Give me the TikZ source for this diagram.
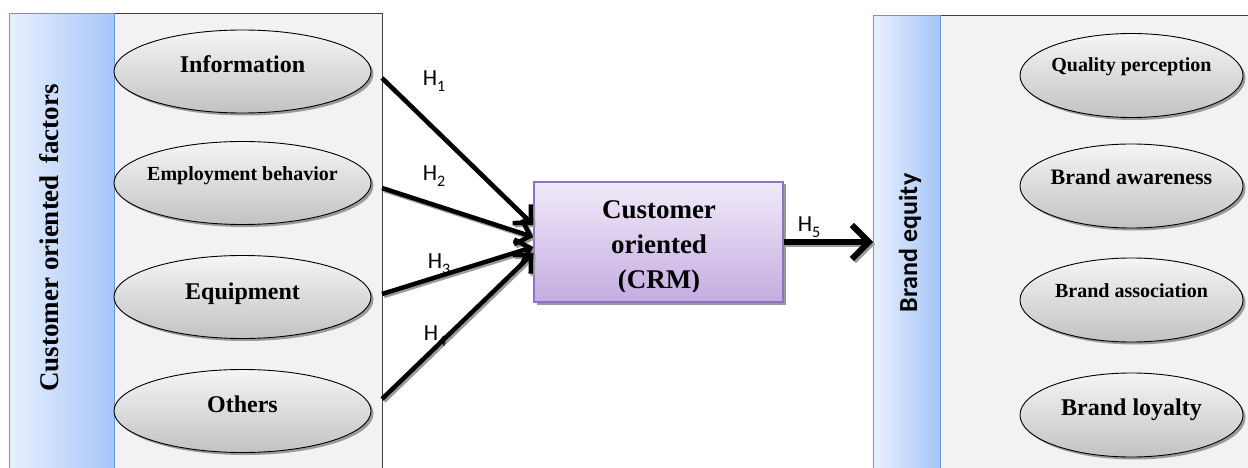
\documentclass[tikz,border=0pt]{standalone}
\usepackage{fontspec}
\setmainfont{Liberation Serif}
\newfontfamily\calib{Carlito}
\usetikzlibrary{shapes.geometric,arrows.meta,shadows}
\definecolor{stripL}{HTML}{E8F0FE}
\definecolor{stripR}{HTML}{A6C4F8}
\definecolor{stripB}{HTML}{6A98D6}
\definecolor{panelF}{HTML}{F2F2F2}
\definecolor{panelB}{HTML}{3F3F3F}
\definecolor{ellT}{HTML}{F5F5F5}
\definecolor{ellB}{HTML}{C2C2C2}
\definecolor{shd}{HTML}{9A9A9A}
\definecolor{crmT}{HTML}{F0EAF9}
\definecolor{crmB}{HTML}{C5ACE0}
\definecolor{crmD}{HTML}{9072C2}
\begin{document}
\begin{tikzpicture}[x=1pt,y=-1pt,
  panel/.style={draw=panelB, line width=0.9pt, fill=panelF, anchor=north west, inner sep=0pt},
  strip/.style={draw=stripB, line width=0.9pt, left color=stripL, right color=stripR, anchor=north west, inner sep=0pt},
  ell/.style={ellipse, draw=black, line width=0.9pt, top color=ellT, bottom color=ellB, inner sep=0pt,
    drop shadow={shadow xshift=2.5pt, shadow yshift=-2.5pt, fill=shd, opacity=1}},
  lell/.style={ell, minimum width=257pt, minimum height=83pt},
  rell/.style={ell, minimum width=223pt, minimum height=84pt},
  lbl/.style={anchor=base, inner sep=0pt, font=\bfseries\fontsize{24}{24}\selectfont},
  slbl/.style={anchor=base, inner sep=0pt, font=\bfseries\fontsize{20}{20}\selectfont},
  hl/.style={inner sep=0pt, font=\calib\fontsize{23}{23}\selectfont},
  arr/.style={line width=4.5pt, -{Straight Barb[length=13pt,width=26pt]}},
  arrsh/.style={arr, draw=shd, transform canvas={shift={(2pt,-2pt)}}},
  bigarr/.style={line width=6pt, -{Straight Barb[length=17pt,width=34pt]}},
  bigarrsh/.style={bigarr, draw=shd, transform canvas={shift={(2pt,-2pt)}}}
]
\useasboundingbox (0,0) rectangle (1248,468);
\clip (0,0) rectangle (1248,468);
\newcommand\Hsub[1]{H\raisebox{-0.28em}{\fontsize{16}{16}\selectfont #1}}

% left panel
\node[panel, minimum width=373pt, minimum height=470pt] (lp) at (9,13) {};
\node[strip, minimum width=105pt, minimum height=470pt] (ls) at (9,13) {};
\node[rotate=90, anchor=base, inner sep=0pt, font=\bfseries\fontsize{27}{27}\selectfont] (lt) at (58,238) {Customer oriented\, factors};

% right panel
\node[panel, minimum width=390pt, minimum height=470pt] (rp) at (873,15) {};
\node[strip, minimum width=67pt, minimum height=470pt] (rs) at (873,15) {};
\node[rotate=90, anchor=base, inner sep=0pt, font=\calib\bfseries\fontsize{26}{26}\selectfont] (rt) at (917,243) {Brand equity};

% left ellipses
\node[lell] (e1) at (242.5,71.5) {};
\node[lbl] (e1t) at (242.5,73) {Information};
\node[lell] (e2) at (242.5,183) {};
\node[slbl] (e2t) at (242.5,180) {Employment behavior};
\node[lell] (e3) at (242.5,297) {};
\node[lbl] (e3t) at (242.5,299) {Equipment};
\node[lell] (e4) at (242.5,411) {};
\node[lbl] (e4t) at (242.5,412) {Others};

% right ellipses
\node[rell] (f1) at (1131.5,75.5) {};
\node[slbl] (f1t) at (1131.5,72) {Quality perception};
\node[rell] (f2) at (1131.5,186) {};
\node[lbl, font=\bfseries\fontsize{22}{22}\selectfont] (f2t) at (1131.5,185) {Brand awareness};
\node[rell] (f3) at (1131.5,300) {};
\node[slbl] (f3t) at (1131.5,297) {Brand association};
\node[rell] (f4) at (1131.5,415) {};
\node[lbl] (f4t) at (1131.5,415) {Brand loyalty};

% CRM box
\node[draw=crmD, line width=1.3pt, top color=crmT, bottom color=crmB, minimum width=249pt, minimum height=120pt, inner sep=0pt,
  drop shadow={shadow xshift=2.5pt, shadow yshift=-2.5pt, fill=shd, opacity=1}] (crm) at (658.5,242) {};
\begin{scope}
\clip (534,182) rectangle (783,291);
\node[inner sep=0pt, anchor=base, align=center, font=\bfseries\fontsize{27}{35}\selectfont] (crmt) at (659,288) {Customer\\oriented\\(CRM)};
\end{scope}

% arrows
\coordinate (s1) at (382,78);
\coordinate (s2) at (382,188);
\coordinate (s3) at (382,294);
\coordinate (s4) at (382,399);
\coordinate (t1) at ([yshift=17pt]crm.west);
\coordinate (t2) at ([yshift=5pt]crm.west);
\coordinate (t3) at ([yshift=-5pt]crm.west);
\coordinate (t4) at ([yshift=-11pt]crm.west);
\coordinate (t5) at (rp.west |- crm.east);
\foreach \i in {1,...,4} {\draw[arrsh] (s\i) -- (t\i);}
\foreach \i in {1,...,4} {\draw[arr] (s\i) -- (t\i);}
\draw[bigarrsh] (crm.east) -- (t5);
\draw[bigarr] (crm.east) -- (t5);

% labels
\node[hl] (h1) at (434,81) {\Hsub{1}};
\node[hl] (h2) at (434,176) {\Hsub{2}};
\node[hl] (h3) at (439,264) {\Hsub{3}};
\node[hl] (h4) at (435,336) {\Hsub{4}};
\node[hl] (h5) at (809,227) {\Hsub{5}};
\end{tikzpicture}
\end{document}
